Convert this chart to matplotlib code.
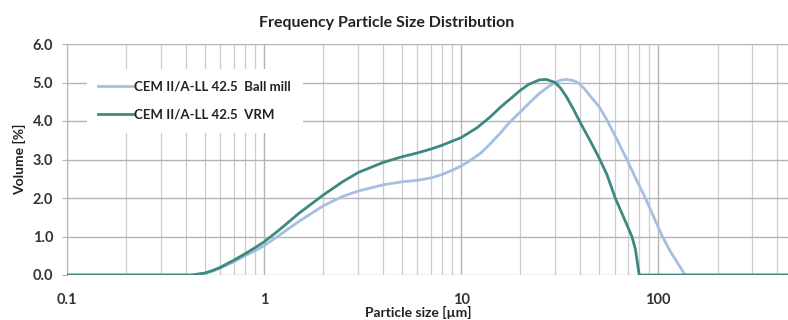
import matplotlib
matplotlib.use("Agg")
import matplotlib.pyplot as plt
from matplotlib.ticker import LogLocator, NullFormatter

plt.rcParams['font.family'] = ['Lato', 'DejaVu Sans']
plt.rcParams['font.weight'] = 'bold'
plt.rcParams['axes.labelweight'] = 'bold'

# particle size [um] and volume [%] per cement
size_ball = [0.1, 0.43, 0.5, 0.55, 0.6, 0.7, 0.8, 0.9, 1.0, 1.2, 1.5, 2.0, 2.5,
             3.0, 4.0, 5.0, 6.0, 7.0, 8.0, 9.0, 10, 11, 12.6, 14, 15.7, 17.5, 20,
             22.5, 25, 27.5, 30, 32, 34.3, 37, 39, 42, 46, 50, 55.3, 62, 69.3, 77,
             86, 95, 105, 115, 125, 137, 500]
vol_ball = [0, 0, 0.04, 0.10, 0.18, 0.34, 0.50, 0.63, 0.76, 1.04, 1.39, 1.80, 2.04,
            2.18, 2.34, 2.42, 2.46, 2.52, 2.61, 2.72, 2.83, 2.96, 3.17, 3.40, 3.67, 3.95, 4.24,
            4.50, 4.72, 4.88, 5.00, 5.06, 5.08, 5.05, 5.00, 4.85, 4.60, 4.38, 4.00, 3.50, 3.00, 2.50,
            2.00, 1.50, 1.00, 0.62, 0.32, 0, 0]

size_vrm = [0.1, 0.43, 0.5, 0.55, 0.6, 0.7, 0.8, 0.9, 1.0, 1.2, 1.5, 2.0, 2.5,
            3.0, 4.0, 5.0, 6.0, 7.0, 8.0, 10, 12, 14, 16, 18, 20, 22, 25, 27,
            30, 32, 34.3, 37, 40, 45, 50, 55, 60.5, 67, 73.5, 76.5, 78.5, 80, 500]
vol_vrm = [0, 0, 0.05, 0.12, 0.20, 0.38, 0.55, 0.71, 0.86, 1.18, 1.60, 2.08, 2.42,
           2.66, 2.92, 3.07, 3.17, 3.27, 3.37, 3.57, 3.82, 4.10, 4.38, 4.60, 4.80, 4.95, 5.07, 5.08,
           5.00, 4.85, 4.62, 4.32, 3.98, 3.50, 3.05, 2.60, 2.00, 1.48, 1.00, 0.68, 0.30, 0, 0]

labels = ["CEM II/A-LL 42.5  Ball mill", "CEM II/A-LL 42.5  VRM"]
xticks = [0.1, 1, 10, 100]
xtick_labels = ["0.1", "1", "10", "100"]
yticks = [0.0, 1.0, 2.0, 3.0, 4.0, 5.0, 6.0]

fig = plt.figure(figsize=(7.88, 3.20), dpi=100)
ax = fig.add_axes([67/788, 45/320, 729/788, 231/320])

grid_col = "#b4b4b4"
ax.plot(size_ball, vol_ball, color="#a6bfe1", lw=2.0, label=labels[0], zorder=3)
ax.plot(size_vrm, vol_vrm, color="#3d897f", lw=2.0, label=labels[1], zorder=4)

ax.set_xscale("log")
ax.set_xlim(0.1, 500)
ax.set_ylim(0, 6)
ax.set_xticks(xticks)
ax.set_xticklabels(xtick_labels)
ax.xaxis.set_minor_locator(LogLocator(base=10, subs=range(2, 10)))
ax.xaxis.set_minor_formatter(NullFormatter())
ax.set_yticks(yticks)
ax.set_yticklabels([f"{v:.1f}" for v in yticks])

ax.grid(True, which="major", axis="both", color=grid_col, lw=1.0)
ax.grid(True, which="minor", axis="x", color="#cccccc", lw=0.9)
ax.set_axisbelow(True)
for s in ["top", "right", "bottom"]:
    ax.spines[s].set_visible(False)
ax.spines["left"].set_color(grid_col)
ax.tick_params(axis="x", which="both", length=0, pad=13, labelsize=10.5, labelcolor="#333333")
ax.tick_params(axis="y", length=3.5, color=grid_col, pad=6.5, labelsize=10.5, labelcolor="#333333")

ax.set_xlabel("Particle size [µm]", fontsize=10, color="#222222")
ax.xaxis.set_label_coords((418 - 67) / 729, -0.134)
ax.set_ylabel("Volume [%]", fontsize=10, color="#222222")
ax.yaxis.set_label_coords(-0.056, 0.5)
fig.text(387/788, 1 - 23/320, "Frequency Particle Size Distribution",
         ha="center", va="center", fontsize=11.5, color="#222222")

leg = ax.legend(loc="upper left", bbox_to_anchor=(80/788, 1 - 62/320),
                bbox_transform=fig.transFigure, frameon=True, fancybox=False,
                facecolor="white", edgecolor="none", framealpha=1,
                fontsize=9.5, handlelength=2.6, handletextpad=0.1,
                borderpad=0.9, labelspacing=1.25)
for t in leg.get_texts():
    t.set_color("#222222")

fig.savefig("out.png", dpi=100)
